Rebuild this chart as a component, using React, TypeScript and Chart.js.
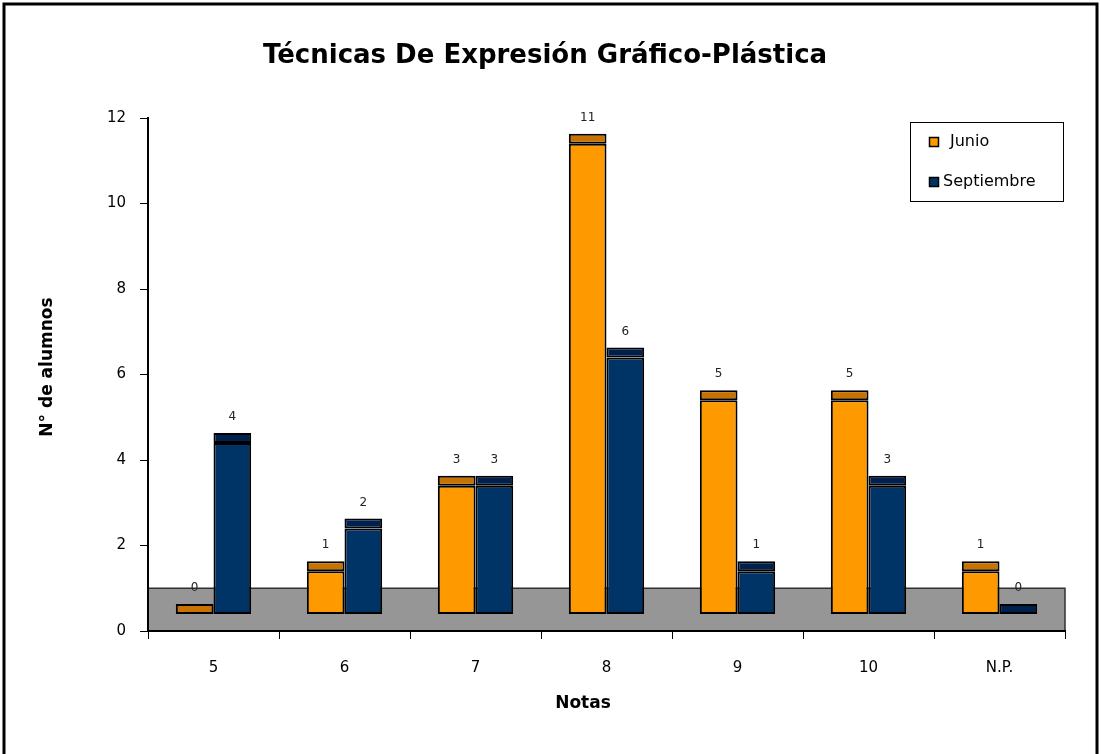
import React, { useEffect, useRef } from "react";
import { Chart, registerables } from "chart.js";

Chart.register(...registerables);

// ---- data ----
const categories = ["5", "6", "7", "8", "9", "10", "N.P."];
const junio = [0, 1, 3, 11, 5, 5, 1];
const septiembre = [4, 2, 3, 6, 1, 3, 0];
const seriesNames = ["Junio", "Septiembre"];
const yTickValues = [0, 2, 4, 6, 8, 10, 12];
const chartTitle = "Técnicas De Expresión Gráfico-Plástica";
const xAxisTitle = "Notas";
const yAxisTitle = "N° de alumnos";

// ---- 3D look (in value units) ----
const BAR_BASE = 0.4; // bars stand on the floor, raised by depth
const CAP = 0.23; // visible top face of the 3D bar
const FLOOR_TOP = 1.0;

const COLORS = {
  junioFace: "#FF9900",
  junioCap: "#C87300",
  septFace: "#003366",
  septCap: "#00204D",
  floor: "#969696",
};

const FONT = "'DejaVu Sans', Verdana, sans-serif";

export default function App() {
  const ref = useRef<HTMLCanvasElement | null>(null);

  useEffect(() => {
    document.body.style.margin = "0";
    const canvas = ref.current;
    if (!canvas) return;

    const decor = {
      id: "decor",
      beforeDraw(chart: any) {
        const { ctx, chartArea, scales } = chart;
        const y = scales.y;
        const top = y.getPixelForValue(FLOOR_TOP);
        const bottom = y.getPixelForValue(0);
        ctx.save();
        ctx.fillStyle = COLORS.floor;
        ctx.fillRect(chartArea.left, top, chartArea.right - chartArea.left, bottom - top);
        ctx.strokeStyle = "#303030";
        ctx.lineWidth = 1.5;
        ctx.beginPath();
        ctx.moveTo(chartArea.left, top);
        ctx.lineTo(chartArea.right, top);
        ctx.lineTo(chartArea.right, bottom);
        ctx.stroke();
        ctx.restore();
      },
      afterDatasetsDraw(chart: any) {
        const { ctx } = chart;
        ctx.save();
        ctx.fillStyle = "#222";
        ctx.font = `12px ${FONT}`;
        ctx.textAlign = "center";
        ctx.textBaseline = "middle";
        const capSets = [
          { idx: 1, values: junio },
          { idx: 3, values: septiembre },
        ];
        for (const s of capSets) {
          const meta = chart.getDatasetMeta(s.idx);
          meta.data.forEach((el: any, i: number) => {
            ctx.fillText(String(s.values[i]), el.x, el.y - 16);
          });
        }
        ctx.restore();
      },
      afterDraw(chart: any) {
        const { ctx } = chart;
        ctx.save();
        // axis titles
        ctx.fillStyle = "#000";
        ctx.font = `bold 17px ${FONT}`;
        ctx.textAlign = "center";
        ctx.textBaseline = "middle";
        ctx.fillText(xAxisTitle, 583, 704);
        ctx.save();
        ctx.translate(48, 367);
        ctx.rotate(-Math.PI / 2);
        ctx.fillText(yAxisTitle, 0, 0);
        ctx.restore();

        // legend
        const lx = 910.5, ly = 122.5, lw = 153, lh = 79;
        ctx.fillStyle = "#fff";
        ctx.fillRect(lx, ly, lw, lh);
        ctx.strokeStyle = "#000";
        ctx.lineWidth = 1;
        ctx.strokeRect(lx, ly, lw, lh);
        const items = [
          { name: seriesNames[0], color: COLORS.junioFace, my: 137, tx: 950, ty: 142 },
          { name: seriesNames[1], color: COLORS.septFace, my: 177, tx: 943, ty: 182 },
        ];
        ctx.font = `16px ${FONT}`;
        ctx.textAlign = "left";
        ctx.textBaseline = "middle";
        for (const it of items) {
          ctx.fillStyle = it.color;
          ctx.fillRect(929.5, it.my + 0.5, 9, 9);
          ctx.strokeStyle = "#000";
          ctx.lineWidth = 1.5;
          ctx.strokeRect(929.5, it.my + 0.5, 9, 9);
          ctx.fillStyle = "#000";
          ctx.fillText(it.name, it.tx, it.ty);
        }

        // outer frame
        ctx.strokeStyle = "#000";
        ctx.lineWidth = 3;
        ctx.strokeRect(4, 4, 1093, 800);
        ctx.restore();
      },
    };

    const common = {
      borderColor: "#000",
      borderWidth: 2,
      borderSkipped: false as const,
      categoryPercentage: 0.575,
      barPercentage: 1,
    };

    const chart = new Chart(canvas, {
      type: "bar",
      data: {
        labels: categories,
        datasets: [
          {
            ...common,
            label: seriesNames[0],
            stack: "junio",
            backgroundColor: COLORS.junioFace,
            data: junio.map((v) => [BAR_BASE, v + BAR_BASE]) as any,
          },
          {
            ...common,
            label: seriesNames[0] + " top",
            stack: "junio",
            backgroundColor: COLORS.junioCap,
            data: junio.map((v) => [v + BAR_BASE, v + BAR_BASE + CAP]) as any,
          },
          {
            ...common,
            label: seriesNames[1],
            stack: "sept",
            backgroundColor: COLORS.septFace,
            data: septiembre.map((v) => [BAR_BASE, v + BAR_BASE]) as any,
          },
          {
            ...common,
            label: seriesNames[1] + " top",
            stack: "sept",
            backgroundColor: COLORS.septCap,
            data: septiembre.map((v) => [v + BAR_BASE, v + BAR_BASE + CAP]) as any,
          },
        ],
      },
      options: {
        responsive: false,
        animation: false,
        devicePixelRatio: 1,
        layout: { padding: { top: 0, left: 25, right: 36, bottom: 0 } },
        plugins: {
          legend: { display: false },
          tooltip: { enabled: false },
          title: {
            display: true,
            text: chartTitle,
            color: "#000",
            font: { family: FONT, size: 26, weight: "bold", lineHeight: 1.2 },
            padding: { top: 41, bottom: 45.8 },
          },
        },
        scales: {
          x: {
            stacked: true,
            grid: {
              display: true,
              offset: true,
              drawOnChartArea: false,
              drawTicks: true,
              tickLength: 8,
              color: "#000",
              lineWidth: 1,
            },
            border: { display: true, color: "#000", width: 2 },
            ticks: {
              color: "#000",
              font: { family: FONT, size: 15 },
              padding: 20,
            },
            afterFit(scale: any) {
              scale.height = 123;
            },
          },
          y: {
            stacked: false,
            min: 0,
            max: 12,
            afterBuildTicks(scale: any) {
              scale.ticks = yTickValues.map((v) => ({ value: v }));
            },
            grid: {
              display: true,
              drawOnChartArea: false,
              drawTicks: true,
              tickLength: 8,
              color: "#000",
              lineWidth: 1,
            },
            border: { display: true, color: "#000", width: 2 },
            ticks: {
              color: "#000",
              font: { family: FONT, size: 15 },
              padding: 14,
            },
            afterFit(scale: any) {
              scale.width = 123;
            },
          },
        },
      },
      plugins: [decor],
    });

    return () => chart.destroy();
  }, []);

  return (
    <div style={{ width: 1101, height: 754, position: "relative", background: "#fff" }}>
      <canvas ref={ref} width={1101} height={754} style={{ display: "block" }} />
    </div>
  );
}
